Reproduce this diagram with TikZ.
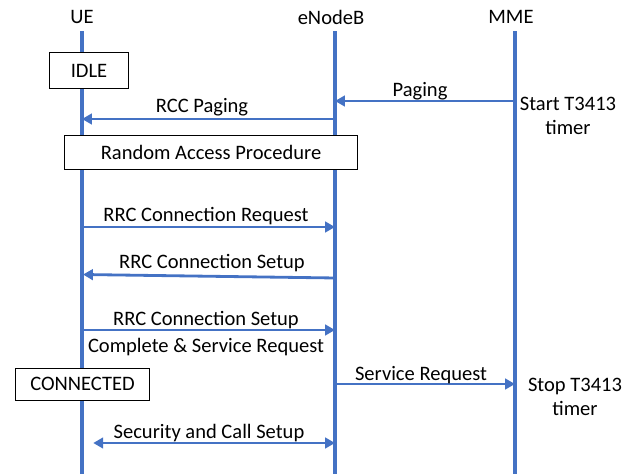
\documentclass[tikz,border=0pt]{standalone}
\usepackage{fontspec}
\setmainfont{Carlito}
\usetikzlibrary{arrows.meta}
\definecolor{lifeblue}{RGB}{68,114,196}
\tikzset{
  life/.style = {draw = lifeblue, line width = 2.2pt},
  msg/.style = {draw = lifeblue, line width = 2pt, -{Triangle[length = 7pt, width = 7.5pt]}},
  statebox/.style = {draw = black, line width = 0.7pt, fill = white, inner sep = 0pt},
  lbl/.style = {inner sep = 0pt}
}
\begin{document}
\begin{tikzpicture}[x = 0.025cm, y = -0.025cm, font = \fontsize{14.6}{17}\selectfont]
\useasboundingbox (0,0) rectangle (644,474);
\node[lbl] (ue) at (82,17) {UE};
\node[lbl] (enb) at (331,17) {eNodeB};
\node[lbl] (mme) at (511,17) {MME};
\foreach \n/\x in {ue/82, enb/335, mme/515}{
  \coordinate (\n top) at (\x,31);
  \coordinate (\n bot) at (\x,474);
  \draw[life] (\n top) -- (\n bot);
}
\node[statebox, minimum width = 1.95cm, minimum height = 0.88cm] (idle) at (89,70.5) {IDLE};
\node[statebox, minimum width = 7.3cm, minimum height = 0.85cm] (rap) at (211,152) {Random Access Procedure};
\node[statebox, minimum width = 3.33cm, minimum height = 0.8cm] (conn) at (82.5,384) {CONNECTED};
\foreach \n/\y in {pag/101, rccp/119, req/227, setup/330, srv/384, sec/443}{
  \coordinate (ue\n) at (82,\y);
  \coordinate (enb\n) at (335,\y);
  \coordinate (mme\n) at (515,\y);
}
\coordinate (enbset) at (336,278);
\coordinate (ueset) at (83,274.5);
\draw[msg] (mmepag) -- (enbpag);
\node[lbl] (paging) at (420,91) {Paging};
\draw[msg] (enbrccp) -- (uerccp);
\node[lbl] (rccpaging) at (202,107) {RCC Paging};
\node[lbl, align = center] (start) at (568,116) {Start T3413\\timer};
\draw[msg] (uereq) -- (enbreq);
\node[lbl] (rrcreq) at (206,216) {RRC Connection Request};
\draw[msg] (enbset) -- (ueset);
\node[lbl] (rrcset) at (212,263) {RRC Connection Setup};
\draw[msg] (uesetup) -- (enbsetup);
\node[lbl] (rrccmp) at (206,320) {RRC Connection Setup};
\node[lbl] (cmpsrv) at (206,347) {Complete \& Service Request};
\draw[msg] (enbsrv) -- (mmesrv);
\node[lbl] (srvreq) at (421,375) {Service Request};
\node[lbl, align = center] (stop) at (575,397) {Stop T3413\\timer};
\draw[msg, {Triangle[length = 7pt, width = 7.5pt]}-{Triangle[length = 7pt, width = 7.5pt]}] ([xshift = 8]uesec) -- (enbsec);
\node[lbl] (secset) at (209,433) {Security and Call Setup};
\end{tikzpicture}
\end{document}
